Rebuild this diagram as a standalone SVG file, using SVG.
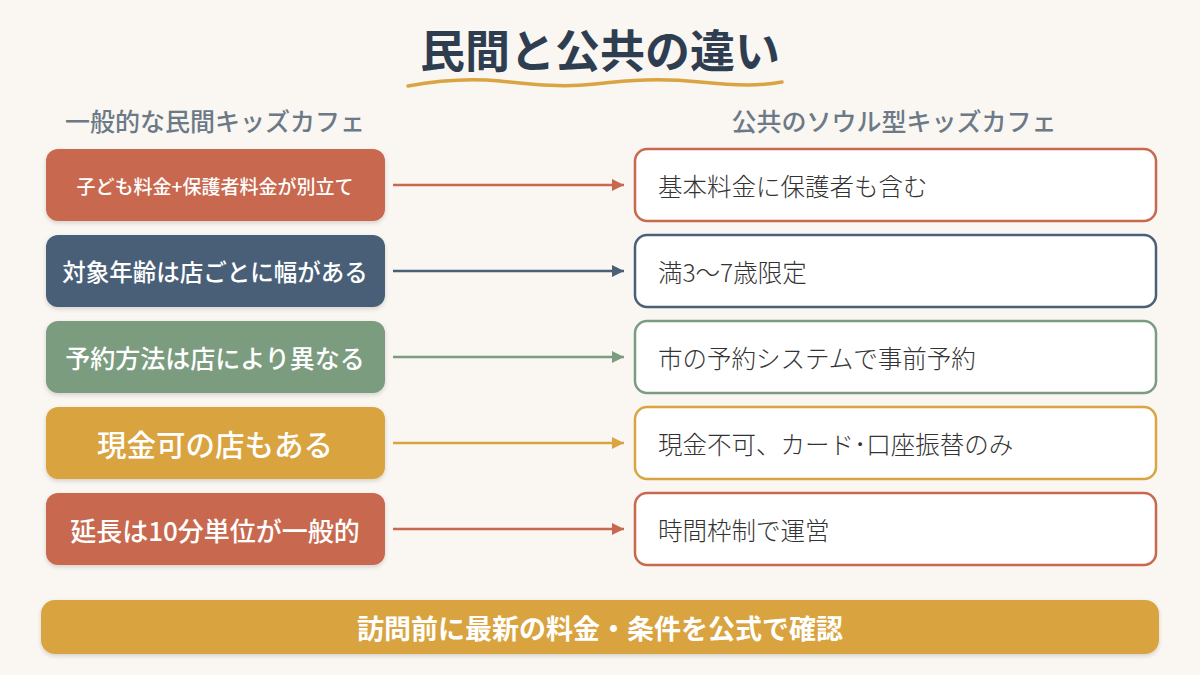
<svg xmlns="http://www.w3.org/2000/svg" width="1200" height="675" viewBox="0 0 1200 675">
<defs>
<style>
.t{font-family:"Noto Sans CJK JP","Noto Sans",sans-serif}
.lt{fill:#fff;text-anchor:middle;dominant-baseline:central;font-weight:500}
.rt{fill:#333;font-size:24.5px;font-weight:300;dominant-baseline:central}
.hd{fill:#6B7A86;font-size:25px;font-weight:500;text-anchor:middle;dominant-baseline:central}
.rb{fill:#fff;stroke-width:2.5}
.ar{stroke-width:2.5;fill:none}
</style>
<filter id="sh" x="-10%" y="-20%" width="120%" height="150%">
<feDropShadow dx="0" dy="2" stdDeviation="2" flood-color="#000" flood-opacity="0.15"/>
</filter>
<marker id="m1" viewBox="0 0 10 10" refX="10" refY="5" markerWidth="5" markerHeight="5" orient="auto" markerUnits="strokeWidth"><path d="M0,0L10,5L0,10z" fill="#C8694F"/></marker>
<marker id="m2" viewBox="0 0 10 10" refX="10" refY="5" markerWidth="5" markerHeight="5" orient="auto" markerUnits="strokeWidth"><path d="M0,0L10,5L0,10z" fill="#4A5F78"/></marker>
<marker id="m3" viewBox="0 0 10 10" refX="10" refY="5" markerWidth="5" markerHeight="5" orient="auto" markerUnits="strokeWidth"><path d="M0,0L10,5L0,10z" fill="#7B9C80"/></marker>
<marker id="m4" viewBox="0 0 10 10" refX="10" refY="5" markerWidth="5" markerHeight="5" orient="auto" markerUnits="strokeWidth"><path d="M0,0L10,5L0,10z" fill="#D9A441"/></marker>
</defs>
<rect width="1200" height="675" fill="#FAF6F2"/>
<g id="title">
<text class="t" x="600" y="48" font-size="45" font-weight="700" fill="#2E3E50" text-anchor="middle" dominant-baseline="central">民間と公共の違い</text>
<path d="M408,86 C440,80 470,78 500,81 S560,88 595,84 S660,78 700,82 S760,86 782,82" fill="none" stroke="#D9A441" stroke-width="3.5" stroke-linecap="round"/>
</g>
<g id="headers">
<text class="t hd" x="215" y="120">一般的な民間キッズカフェ</text>
<text class="t hd" x="894" y="120">公共のソウル型キッズカフェ</text>
</g>
<g id="left1"><rect x="46" y="149" width="339" height="72" rx="12" fill="#C8694F" filter="url(#sh)"/><text class="t lt" x="215" y="185" font-size="19">子ども料金+保護者料金が別立て</text></g>
<g id="left2"><rect x="46" y="235" width="339" height="72" rx="12" fill="#4A5F78" filter="url(#sh)"/><text class="t lt" x="215" y="271" font-size="23.5">対象年齢は店ごとに幅がある</text></g>
<g id="left3"><rect x="46" y="321" width="339" height="72" rx="12" fill="#7B9C80" filter="url(#sh)"/><text class="t lt" x="215" y="357" font-size="25">予約方法は店により異なる</text></g>
<g id="left4"><rect x="46" y="407" width="339" height="72" rx="12" fill="#D9A441" filter="url(#sh)"/><text class="t lt" x="215" y="443" font-size="29.5" font-weight="700">現金可の店もある</text></g>
<g id="left5"><rect x="46" y="493" width="339" height="72" rx="12" fill="#C8694F" filter="url(#sh)"/><text class="t lt" x="215" y="529" font-size="26">延長は10分単位が一般的</text></g>
<g id="connectors">
<line class="ar" x1="393" y1="185" x2="624" y2="185" stroke="#C8694F" marker-end="url(#m1)"/>
<line class="ar" x1="393" y1="271" x2="624" y2="271" stroke="#4A5F78" marker-end="url(#m2)"/>
<line class="ar" x1="393" y1="357" x2="624" y2="357" stroke="#7B9C80" marker-end="url(#m3)"/>
<line class="ar" x1="393" y1="443" x2="624" y2="443" stroke="#D9A441" marker-end="url(#m4)"/>
<line class="ar" x1="393" y1="529" x2="624" y2="529" stroke="#C8694F" marker-end="url(#m1)"/>
</g>
<g id="right1"><rect class="rb" x="635" y="149" width="521" height="72" rx="12" stroke="#C8694F"/><text class="t rt" x="658" y="185">基本料金に保護者も含む</text></g>
<g id="right2"><rect class="rb" x="635" y="235" width="521" height="72" rx="12" stroke="#4A5F78"/><text class="t rt" x="658" y="271">満3〜7歳限定</text></g>
<g id="right3"><rect class="rb" x="635" y="321" width="521" height="72" rx="12" stroke="#7B9C80"/><text class="t rt" x="658" y="357">市の予約システムで事前予約</text></g>
<g id="right4"><rect class="rb" x="635" y="407" width="521" height="72" rx="12" stroke="#D9A441"/><text class="t rt" x="658" y="443">現金不可、カード･口座振替のみ</text></g>
<g id="right5"><rect class="rb" x="635" y="493" width="521" height="72" rx="12" stroke="#C8694F"/><text class="t rt" x="658" y="529">時間枠制で運営</text></g>
<g id="footer"><rect x="41" y="600" width="1118" height="54" rx="14" fill="#D9A441" filter="url(#sh)"/><text class="t" x="600" y="627" font-size="27" font-weight="700" fill="#fff" text-anchor="middle" dominant-baseline="central">訪問前に最新の料金・条件を公式で確認</text></g>
</svg>
